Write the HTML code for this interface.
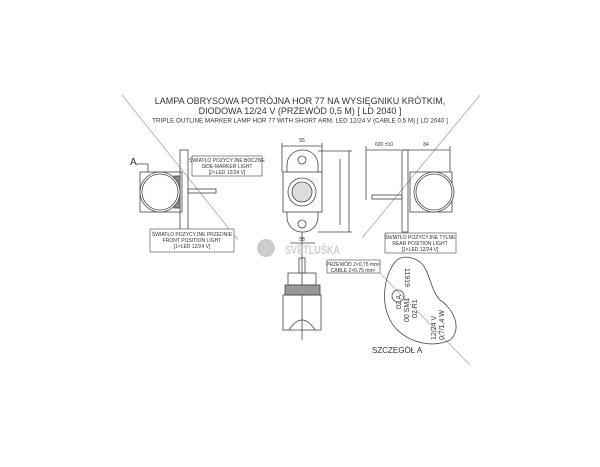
<!DOCTYPE html>
<html><head><meta charset="utf-8"><style>
html,body{margin:0;padding:0;background:#fff;width:600px;height:467px;overflow:hidden}
svg{display:block}
text{font-family:"Liberation Sans",sans-serif;fill:#333}
</style></head><body>
<svg width="600" height="467" viewBox="0 0 600 467" xmlns="http://www.w3.org/2000/svg">
<g stroke="#aaa" stroke-width="0.8" fill="none">
<line x1="122" y1="95" x2="238" y2="240"/>
<line x1="480" y1="95" x2="362" y2="238"/>
<line x1="372" y1="265" x2="470" y2="365"/>
</g>
<text x="300" y="104" font-size="9" text-anchor="middle">LAMPA OBRYSOWA POTRÓJNA HOR 77 NA WYSIĘGNIKU KRÓTKIM,</text>
<text x="300" y="114" font-size="9" text-anchor="middle">DIODOWA 12/24 V (PRZEWÓD 0,5 M) [ LD 2040 ]</text>
<text x="300" y="122.5" font-size="6.3" text-anchor="middle">TRIPLE OUTLINE MARKER LAMP HOR 77 WITH SHORT ARM, LED 12/24 V (CABLE 0,5 M) [ LD 2040 ]</text>
<g stroke="#444" stroke-width="0.8" fill="none">
<rect x="180" y="150" width="8" height="82"/>
<rect x="140" y="172" width="42" height="40"/>
<rect x="174" y="176" width="6" height="32" fill="#888"/>
<circle cx="160" cy="192" r="20" fill="#fff"/>
<circle cx="160" cy="192" r="18"/>
<rect x="188" y="189" width="28" height="4"/>
<polyline points="136,164 148,164 148,172"/>
<rect x="287" y="150" width="31" height="82" rx="15"/>
<rect x="283" y="172" width="39" height="40" fill="#fff"/>
<circle cx="302" cy="192" r="14"/>
<circle cx="302" cy="192" r="10" fill="#ddd"/>
<circle cx="302" cy="160" r="4"/><circle cx="302" cy="224" r="4"/>
<line x1="282" y1="146" x2="322" y2="146"/><line x1="282" y1="143" x2="282" y2="172"/><line x1="322" y1="143" x2="322" y2="172"/>
<line x1="340" y1="159" x2="340" y2="225"/><line x1="349" y1="151" x2="349" y2="232"/>
<line x1="318" y1="151" x2="352" y2="151"/><line x1="318" y1="232" x2="352" y2="232"/>
<line x1="290" y1="243" x2="315" y2="243"/>
<line x1="302" y1="232" x2="302" y2="340"/>
<rect x="402" y="150" width="6" height="82"/>
<rect x="410" y="172" width="42" height="40"/>
<circle cx="434" cy="192" r="20" fill="#fff"/>
<circle cx="434" cy="192" r="18"/>
<rect x="372" y="195" width="30" height="4"/>
<line x1="366" y1="150" x2="401" y2="150"/><line x1="402" y1="150" x2="450" y2="150"/>
<line x1="366" y1="146" x2="366" y2="200"/><line x1="450" y1="146" x2="450" y2="172"/>
<rect x="288" y="273" width="28" height="12"/>
<rect x="285" y="285" width="35" height="10" fill="#999"/>
<path d="M283 295 H321 V330 H283 Z M289 330 Q302 310 315 330"/>
<rect x="299" y="258" width="6" height="15"/>
<path d="M395 262 C385 275 380 300 390 320 C400 340 430 350 450 340 C462 330 455 310 440 300 C430 290 430 270 420 262 C410 255 400 256 395 262 Z"/>
<circle cx="398" cy="296" r="6"/>
</g>
<g stroke="#444" stroke-width="0.6" fill="#fff">
<rect x="150" y="229" width="84" height="23"/>
<rect x="192" y="156" width="70" height="20"/>
<rect x="385" y="233" width="71" height="20"/>
<rect x="327" y="260" width="53" height="13"/>
</g>
<g font-size="5" text-anchor="middle">
<text x="192" y="236">ŚWIATŁO POZYCYJNE PRZEDNIE</text><text x="192" y="242">FRONT POSITION LIGHT</text><text x="192" y="248">[1×LED 12/24 V]</text>
<text x="227" y="162">ŚWIATŁO POZYCYJNE BOCZNE</text><text x="227" y="168">SIDE-MARKER LIGHT</text><text x="227" y="174">[2×LED 12/24 V]</text>
<text x="420" y="239">ŚWIATŁO POZYCYJNE TYLNE</text><text x="420" y="245">REAR POSITION LIGHT</text><text x="420" y="251">[1×LED 12/24 V]</text>
<text x="353" y="266">PRZEWÓD 2×0,75 mm²</text><text x="353" y="272">CABLE 2×0,75 mm²</text>
<text x="302" y="142">55</text><text x="384" y="146">600 ±10</text><text x="426" y="146">84</text><text x="302" y="241">58</text>
</g>
<text x="130" y="165" font-size="10">A</text>
<circle cx="266" cy="248" r="9" fill="#ccc"/>
<text x="285" y="254" font-size="12" font-weight="bold" style="fill:#cfcfcf" textLength="55" lengthAdjust="spacingAndGlyphs">SVĚTLUŠKA</text>
<g font-size="7">
<text transform="translate(405,268) rotate(90)">11919</text>
<text transform="translate(401,309) rotate(-90)">02 A</text>
<text transform="translate(409,322) rotate(-90)">00 SM1</text>
<text transform="translate(417,318) rotate(-90)">02 R1</text>
<text transform="translate(436,340) rotate(-90)">12/24 V</text>
<text transform="translate(444,340) rotate(-90)">0,7/1,4 W</text>
</g>
<text x="372" y="353" font-size="8">SZCZEGÓŁ A</text>
</svg>
</body></html>
